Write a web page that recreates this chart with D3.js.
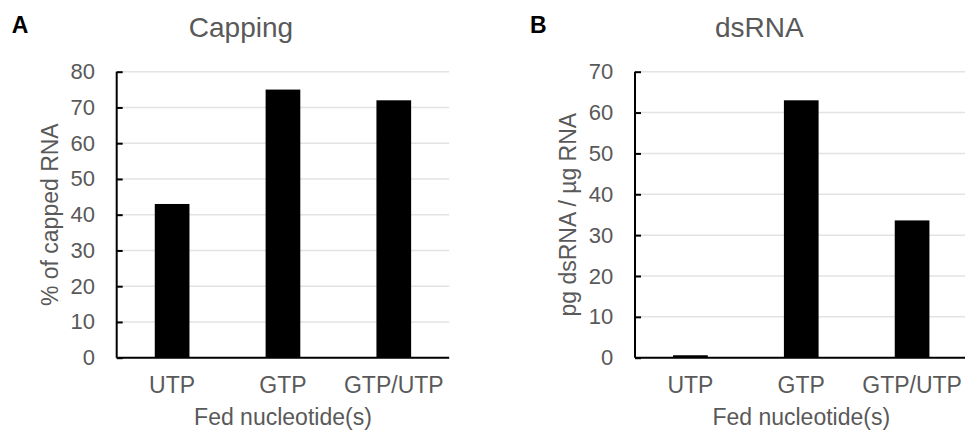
<!DOCTYPE html>
<html>
<head>
<meta charset="utf-8">
<script src="https://cdn.jsdelivr.net/npm/d3@7"></script>
<style>
  html, body { margin: 0; padding: 0; background: #fff; }
  svg { display: block; font-family: "Liberation Sans", Arial, sans-serif; }
</style>
</head>
<body>
<svg id="chart" width="965" height="432"></svg>
<script>
// ---- Data ----
const categories = ["UTP", "GTP", "GTP/UTP"];
const cappingValues = [43, 75, 72];
const dsrnaValues = [0.6, 63, 33.6];
const cappingTicks = [0, 10, 20, 30, 40, 50, 60, 70, 80];
const dsrnaTicks = [0, 10, 20, 30, 40, 50, 60, 70];

const panels = [
  { letter: "A", title: "Capping", yLabel: "% of capped RNA", values: cappingValues,
    ticks: cappingTicks, yMax: 80, left: 116.7 },
  { letter: "B", title: "dsRNA", yLabel: "pg dsRNA / µg RNA", values: dsrnaValues,
    ticks: dsrnaTicks, yMax: 70, left: 635 }
];

const svg = d3.select("#chart");
const plotTop = 71.7, plotBottom = 357.7, plotW = 332.5;
const textGray = "#595959";

panels.forEach(p => {
  const g = svg.append("g");
  const x = d3.scaleBand().domain(categories).range([p.left, p.left + plotW])
    .paddingInner(0.687).paddingOuter(0.3435);
  const y = d3.scaleLinear().domain([0, p.yMax]).range([plotBottom, plotTop]);

  // gridlines
  g.append("g").selectAll("line").data(p.ticks.filter(t => t > 0)).join("line")
    .attr("x1", p.left).attr("x2", p.left + plotW)
    .attr("y1", d => y(d)).attr("y2", d => y(d))
    .attr("stroke", "#e3e3e3").attr("stroke-width", 1.5);

  // bars
  g.append("g").selectAll("rect").data(p.values).join("rect")
    .attr("x", (d, i) => x(categories[i]))
    .attr("width", x.bandwidth())
    .attr("y", d => y(d))
    .attr("height", d => plotBottom - y(d))
    .attr("fill", "#000");

  // y axis
  const yAxis = d3.axisLeft(y).tickValues(p.ticks).tickSize(-6).tickPadding(21.7)
    .tickFormat(d3.format("d"));
  const ya = g.append("g").attr("transform", `translate(${p.left},0)`).call(yAxis);
  ya.select(".domain").attr("stroke", "#000").attr("stroke-width", 2)
    .attr("d", `M0,${plotTop}V${plotBottom}`);
  ya.selectAll(".tick line").attr("stroke", "#000").attr("stroke-width", 2);
  ya.selectAll(".tick text").attr("fill", textGray).style("font-size", "22px")
    .style("font-family", "'Liberation Sans', Arial, sans-serif");

  // x axis
  const xAxis = d3.axisBottom(x).tickSize(0).tickPadding(18);
  const xa = g.append("g").attr("transform", `translate(0,${plotBottom})`).call(xAxis);
  xa.select(".domain").attr("stroke", "#000").attr("stroke-width", 2)
    .attr("d", `M${p.left},0H${p.left + plotW}`);
  xa.selectAll(".tick text").attr("fill", textGray).style("font-size", "23px")
    .style("font-family", "'Liberation Sans', Arial, sans-serif")
    .attr("dy", null).attr("y", 35.5);

  // axis titles
  g.append("text").attr("x", p.left + plotW / 2).attr("y", 425)
    .attr("text-anchor", "middle").attr("fill", textGray).style("font-size", "23px")
    .text("Fed nucleotide(s)");
  g.append("text").attr("transform", `translate(${p.left - 59},${(plotTop + plotBottom) / 2}) rotate(-90)`)
    .attr("text-anchor", "middle").attr("fill", textGray).style("font-size", "23px")
    .text(p.yLabel);

  // chart title
  g.append("text").attr("x", p.left + plotW / 2 - 42).attr("y", 37)
    .attr("text-anchor", "middle").attr("fill", textGray).style("font-size", "28px")
    .text(p.title);

  // panel letter
  g.append("text").attr("x", p.left - 105).attr("y", 33)
    .attr("fill", "#000").style("font-size", "23px").style("font-weight", "bold")
    .text(p.letter);
});
</script>
</body>
</html>
